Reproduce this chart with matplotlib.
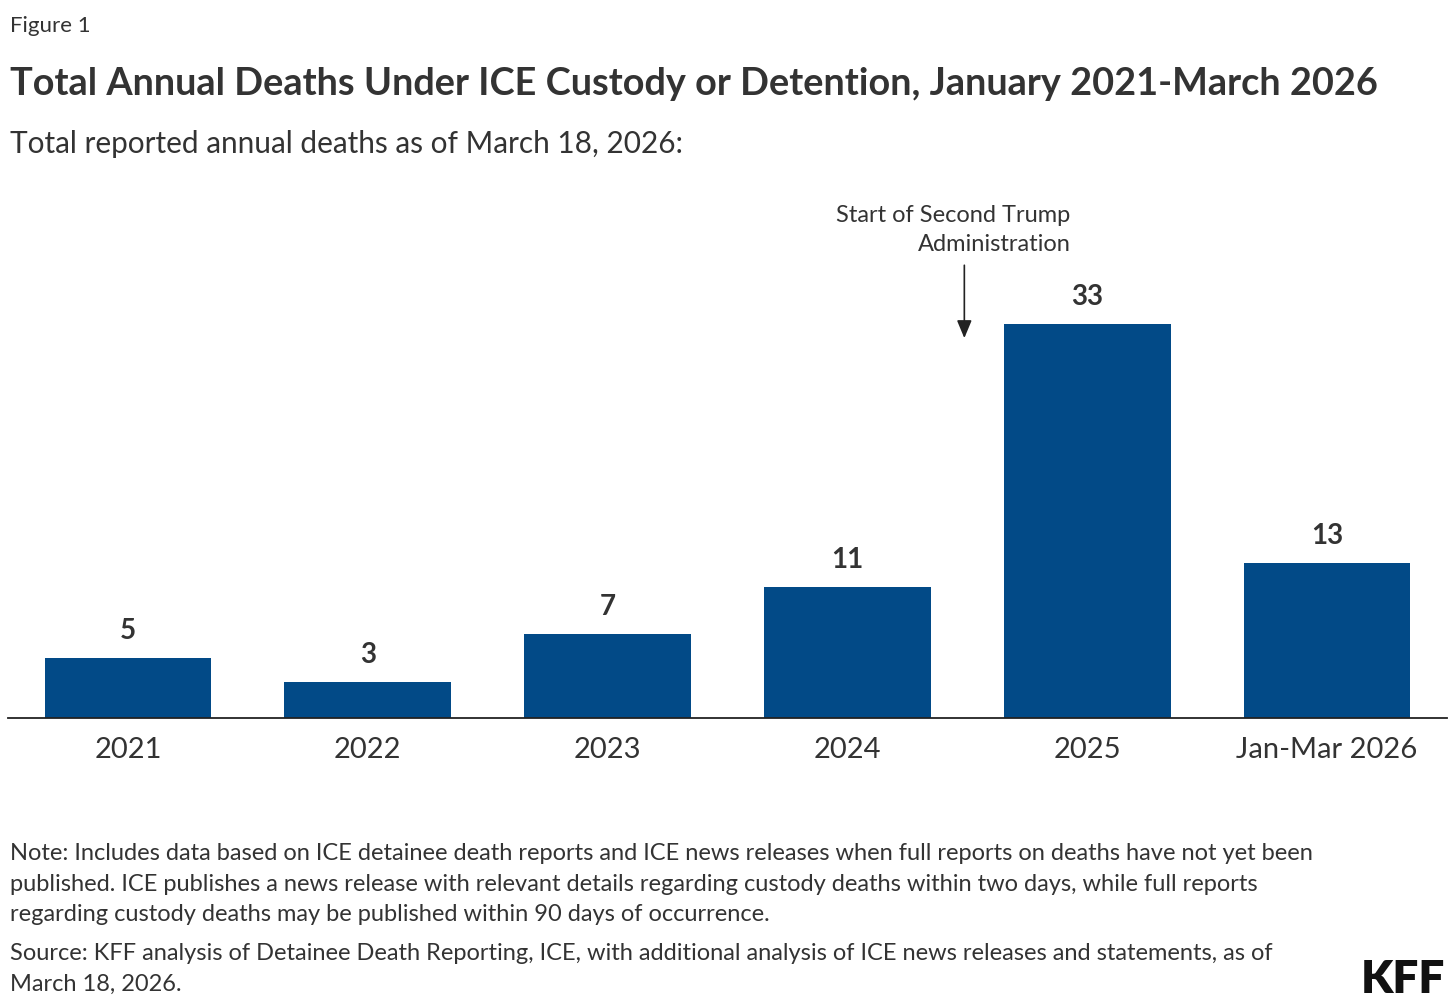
import numpy as np
import matplotlib.pyplot as plt

# data
categories = ["2021", "2022", "2023", "2024", "2025", "Jan-Mar 2026"]
deaths = [5, 3, 7, 11, 33, 13]

title = "Total Annual Deaths Under ICE Custody or Detention, January 2021-March 2026"
subtitle = "Total reported annual deaths as of March 18, 2026:"
note = ("Note: Includes data based on ICE detainee death reports and ICE news releases when full reports on deaths have not yet been\n"
        "published. ICE publishes a news release with relevant details regarding custody deaths within two days, while full reports\n"
        "regarding custody deaths may be published within 90 days of occurrence.")
source = ("Source: KFF analysis of Detainee Death Reporting, ICE, with additional analysis of ICE news releases and statements, as of\n"
          "March 18, 2026.")

bar_color = "#024a87"
text_color = "#333333"

plt.rcParams['font.family'] = ['Lato', 'DejaVu Sans']

W, H = 1456, 1007
fig = plt.figure(figsize=(W / 100, H / 100), dpi=100)
fig.patch.set_facecolor("white")

def px(x, y):
    return x / W, 1 - y / H

# axes placed so baseline sits at y=718px
left, right = 8, 1447
top, bottom = 190, 718
ax = fig.add_axes([left / W, 1 - bottom / H, (right - left) / W, (bottom - top) / H])

x = np.arange(len(categories))
bars = ax.bar(x, deaths, width=0.695, color=bar_color, zorder=2)
ax.set_xlim(-0.5, len(categories) - 0.5)
ax.set_ylim(0, 44.2)

for b, v in zip(bars, deaths):
    ax.annotate(str(v), (b.get_x() + b.get_width() / 2, v), xytext=(0, 10),
                textcoords="offset points", ha="center", va="bottom",
                fontsize=20, fontweight="bold", color=text_color)

ax.set_xticks(x)
ax.set_xticklabels(categories, fontsize=21, color=text_color)
ax.tick_params(axis="x", length=0, pad=14)
ax.set_yticks([])
for s in ["top", "left", "right"]:
    ax.spines[s].set_visible(False)
ax.spines["bottom"].set_color("#222222")
ax.spines["bottom"].set_linewidth(1.3)

# annotation for second Trump administration
ax.annotate("", xy=(3.4875, 31.8), xytext=(3.4875, 37.9),
            arrowprops=dict(arrowstyle="-|>,head_length=0.6,head_width=0.25",
                            color="#222222", lw=1.2, mutation_scale=18,
                            shrinkA=0, shrinkB=0))
ax.text(3.93, 38.75, "Start of Second Trump\nAdministration", ha="right", va="bottom",
        fontsize=17, color=text_color, linespacing=1.5)

# header texts
fig.text(*px(10, 32), "Figure 1", fontsize=16, color=text_color, va="baseline")
fig.text(*px(10, 95), title, fontsize=27.3, fontweight="bold", color=text_color, va="baseline")
fig.text(*px(10, 153), subtitle, fontsize=21.4, color=text_color, va="baseline")

# footer texts
fig.text(*px(10, 843), note, fontsize=17, color=text_color, va="top", linespacing=1.57)
fig.text(*px(10, 943), source, fontsize=17, color=text_color, va="top", linespacing=1.57)
fig.text(*px(1445, 993), "KFF", fontsize=33, fontweight="heavy", color="#111111",
         ha="right", va="baseline")

fig.savefig("out.png", dpi=100, facecolor="white")
